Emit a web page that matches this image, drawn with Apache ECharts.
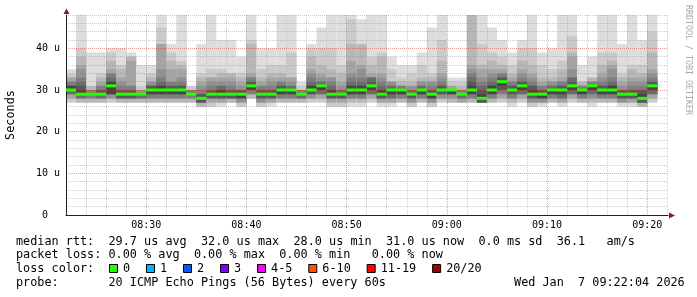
<!DOCTYPE html>
<html><head><meta charset="utf-8">
<script src="https://cdn.jsdelivr.net/npm/echarts@6/dist/echarts.min.js"></script>
<style>html,body{margin:0;padding:0;background:#fff}#c{width:697px;height:297px}</style>
</head><body><div id="c"></div>
<script>
// ---- data ----
const START = '08:22';
const END = '09:22:04';
const times = ['08:23','08:24','08:25','08:26','08:27','08:28','08:29','08:30','08:31','08:32','08:33','08:34','08:35','08:36','08:37','08:38','08:39','08:40','08:41','08:42','08:43','08:44','08:45','08:46','08:47','08:48','08:49','08:50','08:51','08:52','08:53','08:54','08:55','08:56','08:57','08:58','08:59','09:00','09:01','09:02','09:03','09:04','09:05','09:06','09:07','09:08','09:09','09:10','09:11','09:12','09:13','09:14','09:15','09:16','09:17','09:18','09:19','09:20','09:21'];
const median = [30,29,29,29,31,29,29,29,30,30,30,30, 29,28,29,29,29,29,31,29,29,30,30,29, 30,31,29,29,30,30,31,29,30,30,29,30, 29,30,30,29,30,28,30,32,30,31,29,29, 30,30,31,30,31,30,30,29,29,28,31];
const lossCount = [0,0,0,0,0,0,0,0,0,0,0,0, 0,0,0,0,0,0,0,0,0,0,0,0, 0,0,0,0,0,0,0,0,0,0,0,0, 0,0,0,0,0,0,0,0,0,0,0,0, 0,0,0,0,0,0,0,0,0,0,0];
// 20 sorted ping rtts (us) per step
const pings = [
[27,27,28,28,29,29,29,30,30,30,30,31,31,31,32,32,33,33,34,35],
[27,27,27,28,28,28,28,29,29,29,29,30,31,32,33,35,36,38,40,48],
[27,27,27,28,28,28,29,29,29,29,29,29,29,29,30,30,30,31,31,39],
[27,27,27,28,28,28,28,29,29,29,29,29,30,30,31,31,32,33,34,39],
[27,27,28,28,28,29,29,29,29,31,31,32,32,33,34,34,35,37,39,40],
[27,27,27,28,28,28,28,28,29,29,29,29,30,30,31,32,33,35,36,40],
[27,27,27,28,28,28,28,28,29,29,29,29,30,30,31,31,37,38,38,39],
[27,27,27,28,28,28,28,29,29,29,29,29,29,29,29,30,30,30,31,36],
[27,27,27,28,28,28,29,29,29,30,30,30,31,31,31,32,32,33,34,36],
[27,27,27,28,28,28,29,29,29,30,30,31,31,32,33,35,41,41,45,48],
[27,27,27,28,28,28,29,29,29,30,30,30,31,31,32,32,35,37,39,41],
[27,27,27,28,28,28,29,29,29,30,30,30,31,31,32,33,35,36,37,48],
[27,27,27,28,28,28,29,29,29,29,29,29,29,29,30,30,30,30,31,31],
[26,26,26,27,27,27,27,27,28,28,28,28,29,29,30,31,32,33,34,41],
[26,26,27,27,28,28,28,28,29,29,29,29,30,30,31,32,33,33,35,48],
[26,27,27,27,28,28,28,28,29,29,29,30,30,31,31,32,33,34,35,42],
[27,27,27,28,28,28,28,28,29,29,29,29,30,30,31,32,33,34,34,42],
[26,26,27,27,27,28,28,28,28,29,29,29,30,30,30,31,32,33,34,38],
[28,28,28,29,29,29,30,30,30,31,31,31,32,32,33,33,34,41,42,48],
[26,26,27,27,27,28,28,28,29,29,29,29,30,30,31,31,32,33,35,40],
[26,27,27,27,28,28,28,28,29,29,29,29,30,30,31,32,33,34,36,40],
[27,27,27,28,28,28,29,29,29,30,30,30,31,31,32,32,33,34,36,48],
[27,27,27,28,28,28,29,29,29,30,30,30,30,31,31,32,33,33,39,48],
[27,27,27,28,28,28,28,29,29,29,29,29,29,29,30,30,30,30,31,32],
[27,27,28,28,28,29,29,29,30,30,30,31,31,32,33,34,35,38,40,41],
[27,27,28,28,29,29,29,30,30,31,31,31,31,32,32,33,34,36,40,45],
[26,26,27,27,28,28,28,28,29,29,29,30,30,31,32,33,33,35,40,48],
[26,26,27,27,28,28,28,28,29,29,29,29,29,30,30,31,32,34,36,48],
[26,27,27,28,28,28,29,29,29,30,30,31,31,32,33,34,37,41,47,48],
[26,27,27,28,28,28,29,29,29,30,30,31,31,32,33,35,36,41,41,47],
[27,27,28,28,29,29,29,30,30,31,31,31,32,33,33,33,34,36,38,48],
[26,27,27,27,28,28,28,28,29,29,29,30,30,31,32,33,34,38,39,48],
[26,27,27,27,28,28,28,29,29,30,30,30,30,31,31,32,32,32,35,38],
[27,27,27,28,28,28,29,29,29,30,30,30,30,30,31,31,31,32,33,36],
[26,26,27,27,27,28,28,28,29,29,29,29,29,30,30,31,31,32,34,36],
[27,27,27,28,28,28,29,29,29,30,30,30,30,31,31,32,32,33,36,39],
[26,26,27,27,27,28,28,28,28,29,29,29,30,30,31,32,32,33,34,45],
[27,27,28,28,28,29,29,29,30,30,30,30,31,31,32,33,34,37,42,48],
[27,27,27,28,28,29,29,29,29,30,30,30,30,30,30,30,31,31,32,33],
[27,27,27,27,28,28,28,29,29,29,29,29,29,29,30,30,30,31,32,33],
[27,27,27,28,28,28,29,29,29,30,30,31,32,33,34,35,36,48,48,48],
[27,27,27,27,27,27,27,27,28,28,28,29,30,31,32,33,35,36,41,48],
[27,27,27,28,28,28,29,29,29,30,30,31,31,32,33,34,35,37,39,45],
[27,27,28,28,29,29,30,30,31,32,32,32,33,33,34,34,35,36,38,42],
[26,27,27,28,28,28,29,29,30,30,30,30,31,31,32,32,33,34,36,39],
[27,27,28,28,29,29,29,30,30,31,31,31,32,32,33,34,35,37,40,42],
[26,26,27,27,27,28,28,28,29,29,29,30,31,31,32,33,34,36,40,48],
[26,27,27,27,27,28,28,28,28,29,29,29,30,30,31,31,32,33,36,39],
[27,27,27,28,28,28,29,29,29,30,30,30,30,31,31,32,32,33,35,40],
[26,27,27,27,28,28,28,29,29,30,30,30,31,31,32,32,33,35,37,48],
[27,27,28,28,29,29,29,30,30,31,31,31,32,33,33,35,38,39,43,48],
[27,27,27,28,28,28,29,29,29,30,30,30,30,30,31,31,31,32,32,36],
[26,27,27,28,28,29,29,30,30,31,31,31,31,31,32,32,32,33,33,38],
[27,27,27,28,28,28,29,29,29,30,30,30,31,31,32,33,34,36,39,48],
[27,27,27,28,28,28,29,29,29,30,30,31,31,32,33,35,36,37,39,48],
[26,27,27,27,27,28,28,28,29,29,29,29,30,30,30,31,32,33,34,41],
[26,27,27,27,28,28,28,28,29,29,29,29,30,30,31,32,33,35,36,48],
[26,26,26,27,27,27,27,27,28,28,28,29,30,30,31,32,33,34,36,42],
[27,27,28,28,29,29,29,30,30,31,31,31,32,32,33,34,35,39,44,48]
];
const xTickLabels = ['08:30','08:40','08:50','09:00','09:10','09:20'];
const yTickLabels = ['0  ','10 u','20 u','30 u','40 u'];
const sdText = '0.0 ms sd';
const rateText = '36.1   am/s';
const probeText = '20 ICMP Echo Pings (56 Bytes) every 60s';
const stampText = 'Wed Jan  7 09:22:04 2026';
const lossLegend = [['0','#26ff00'],['1','#00b8ff'],['2','#0059ff'],['3','#7e00ff'],['4-5','#ff00ff'],['6-10','#ff5500'],['11-19','#ff0000'],['20/20','#a10000']];
const lossColorFor = n => n===0?'#26ff00':n===1?'#00b8ff':n===2?'#0059ff':n===3?'#7e00ff':n<=5?'#ff00ff':n<=10?'#ff5500':n<=19?'#ff0000':'#a10000';

// ---- helpers ----
const toMin = s => { const p = s.split(':').map(Number); return p[0]*60 + p[1] + (p[2]||0)/60; };
const fmtMin = v => { const m = Math.round(v); return String(Math.floor(m/60)).padStart(2,'0')+':'+String(m%60).padStart(2,'0'); };
const SMOKE = ['#dddddd','#cacaca','#b7b7b7','#a4a4a4','#919191','#7e7e7e','#6b6b6b','#585858','#454545','#323232'];
const MINOR = 'rgba(140,140,140,0.44)';
const MAJOR = 'rgba(200,40,40,0.45)';
const MONO = '"DejaVu Sans Mono"';

const chart = echarts.init(document.getElementById('c'), null, {renderer:'canvas'});

// stats from data
const avg = median.reduce((a,b)=>a+b,0)/median.length;
const mx = Math.max(...median), mn = Math.min(...median), now = median[median.length-1];
const lossPct = lossCount.map(c=>c/20*100);
const lAvg = lossPct.reduce((a,b)=>a+b,0)/lossPct.length;

const CW = 7.115, LX = 16, FS = '11.82px ' + MONO;
const rowY = [241.7, 255.4, 269.1, 282.8];
const col = i => LX + i*CW;
const txt = (x, y, s, extra) => Object.assign({type:'text', x, y, silent:true, style:{text:s, font:FS, fill:'#000', verticalAlign:'middle', align:'left'}}, extra||{});

const graphics = [
  txt(col(0), rowY[0], 'median rtt:'),
  txt(col(13), rowY[0], avg.toFixed(1)+' us avg'),
  txt(col(26), rowY[0], mx.toFixed(1)+' us max'),
  txt(col(39), rowY[0], mn.toFixed(1)+' us min'),
  txt(col(52), rowY[0], now.toFixed(1)+' us now'),
  txt(col(65), rowY[0], sdText),
  txt(col(76), rowY[0], rateText),
  txt(col(0), rowY[1], 'packet loss:'),
  txt(col(13), rowY[1], lAvg.toFixed(2)+' % avg'),
  txt(col(25), rowY[1], Math.max(...lossPct).toFixed(2)+' % max'),
  txt(col(37), rowY[1], Math.min(...lossPct).toFixed(2)+' % min'),
  txt(col(50), rowY[1], lossPct[lossPct.length-1].toFixed(2)+' % now'),
  txt(col(0), rowY[2], 'loss color:'),
  txt(col(0), rowY[3], 'probe:'),
  txt(col(13), rowY[3], probeText),
  txt(col(70), rowY[3], stampText),
  {type:'text', x:11, y:115, rotation:Math.PI/2, silent:true, style:{text:'Seconds', font:FS, fill:'#000', align:'center', verticalAlign:'middle'}},
  {type:'text', x:688.5, y:60, rotation:-Math.PI/2, silent:true, style:{text:'RRDTOOL / TOBI OETIKER', font:'8.3px '+MONO, fill:'#a8a8a8', align:'center', verticalAlign:'middle'}},
  {type:'polygon', silent:true, shape:{points:[[66.5,8.5],[63.5,14],[69.5,14]]}, style:{fill:'#7f1f1f'}, z:10},
  {type:'polygon', silent:true, shape:{points:[[675,215.5],[669,212.5],[669,218.5]]}, style:{fill:'#7f1f1f'}, z:10}
];
let bx = 109;
lossLegend.forEach(([lab, c]) => {
  graphics.push({type:'rect', silent:true, shape:{x:bx+0.5, y:264.5, width:8, height:8}, style:{fill:c, stroke:'#000', lineWidth:1}});
  graphics.push(txt(bx+14, rowY[2], lab));
  bx += 29.9 + lab.length*CW;
});

const option = {
  animation: false,
  backgroundColor: '#ffffff',
  grid: {left:66, top:15, width:602, height:200, containLabel:false, outerBoundsMode:'none'},
  xAxis: {
    type:'value', min: toMin(START), max: toMin(END), interval: 2, z: 2,
    axisLine: {show:true, lineStyle:{color:'#1f1f1f', width:1}},
    axisTick: {show:false},
    axisLabel: {show:true, margin:5, fontFamily:'DejaVu Sans Mono', fontSize:10, color:'#000',
      formatter: v => { const s = fmtMin(v); return (Math.abs(v-Math.round(v))<1e-6 && xTickLabels.includes(s)) ? s : ''; }},
    splitLine: {show:true, showMaxLine:false, lineStyle:{color:[MINOR,MINOR,MINOR,MINOR,MAJOR], type:[1,1], width:1}}
  },
  yAxis: {
    type:'value', min:0, max:48, interval:2, z: 2,
    axisLine: {show:true, lineStyle:{color:'#1f1f1f', width:1}},
    axisTick: {show:false},
    axisLabel: {show:true, margin:6, fontFamily:'DejaVu Sans Mono', fontSize:10, color:'#000',
      formatter: v => (v%10===0 && v/10 < yTickLabels.length) ? yTickLabels[v/10] : ''},
    splitLine: {show:true, lineStyle:{color:[MAJOR,MINOR,MINOR,MINOR,MINOR], type:[1,1], width:1}}
  },
  graphic: graphics,
  series: [
    {
      type:'custom', z:1, clip:true, silent:true,
      data: times.map((t,i) => [toMin(t), median[i]]),
      encode: {x:0, y:1},
      renderItem: (params, api) => {
        const i = params.dataIndex;
        const t1 = api.value(0), t0 = t1 - 1;
        const p = pings[i];
        const xa = api.coord([t0, 0])[0], xb = api.coord([t1, 0])[0];
        const children = [];
        for (let k = 0; k < 10; k++) {
          const lo = p[k], hi = p[19-k];
          if (hi <= lo) continue;
          const yt = api.coord([t1, hi])[1], yb = api.coord([t1, lo])[1];
          children.push({type:'rect', shape:{x:xa, y:yt, width:xb-xa, height:yb-yt}, style:{fill:SMOKE[k]}});
        }
        return {type:'group', children};
      }
    },
    {
      type:'custom', z:3, silent:true,
      data: times.map((t,i) => [toMin(t), median[i]]),
      encode: {x:0, y:1},
      renderItem: (params, api) => {
        const i = params.dataIndex;
        const t1 = api.value(0), t0 = t1 - 1;
        const a = api.coord([t0, api.value(1)]), b = api.coord([t1, api.value(1)]);
        return {type:'line', shape:{x1:a[0], y1:a[1], x2:b[0], y2:b[1]}, style:{stroke:lossColorFor(lossCount[i]), lineWidth:3, lineCap:'butt'}};
      }
    }
  ]
};
chart.setOption(option);
</script></body></html>
